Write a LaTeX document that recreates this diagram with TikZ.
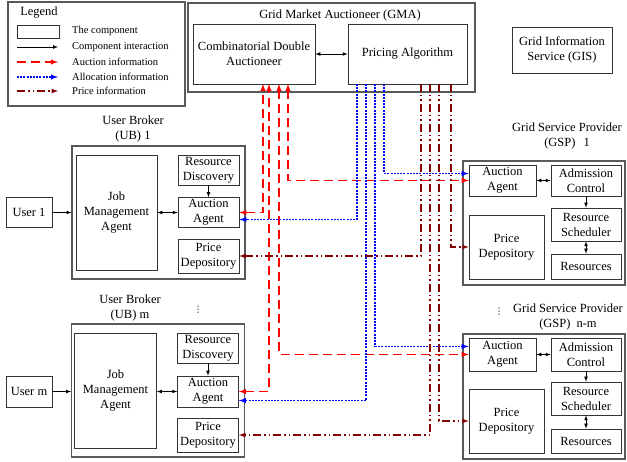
\documentclass[tikz,border=0pt]{standalone}
\usepackage{fontspec}
\setmainfont{Liberation Serif}
\newfontfamily\dotsfont{DejaVu Sans}
\usepackage{tikz}
\usetikzlibrary{arrows}
\usetikzlibrary{calc}
\definecolor{pricered}{RGB}{130,0,0}

\begin{document}
\begin{tikzpicture}[x=1pt,y=-1pt,
    font=\fontsize{12.5}{15}\selectfont,
    comp/.style={draw=black!80, line width=0.7pt, align=center, inner sep=1pt},
    frame/.style={draw=black!65, line width=1.1pt},
    label/.style={align=center, inner sep=0pt},
    legtext/.style={anchor=west, inner sep=0pt, font=\fontsize{10.5}{12}\selectfont},
    vdotsmark/.style={inner sep=0pt, font=\dotsfont\fontsize{9}{10}\selectfont},
    link/.style={-latex, line width=0.7pt},
    twolink/.style={latex-latex, line width=0.7pt},
    auction/.style={red, line width=1.4pt, dash pattern=on 9pt off 5pt},
    alloc/.style={-latex, blue, line width=1.4pt, dash pattern=on 2pt off 1.2pt},
    price/.style={-latex, pricered, line width=1.2pt, dash pattern=on 8pt off 3pt on 1.5pt off 3pt on 1.5pt off 3pt}]
  \useasboundingbox (0,0) rectangle (627,462);

  % legend
  \node[frame, minimum width=177pt, minimum height=104pt] (legend) at (96.5,54) {};
  \node[inner sep=0pt] (legtitle) at (39,13) {Legend};
  \node[comp, minimum width=42pt, minimum height=13pt] (legbox) at (38,31.5) {};
  \node[legtext] (legt1) at (72,31) {The component};
  \node[legtext] (legt2) at (72,47) {Component interaction};
  \node[legtext] (legt3) at (72,62) {Auction information};
  \node[legtext] (legt4) at (72,77) {Allocation information};
  \node[legtext] (legt5) at (72,91) {Price information};
  \coordinate (l2) at (17,47);
  \coordinate (l3) at (17,62);
  \coordinate (l4) at (17,77);
  \coordinate (l5) at (17,91);
  \draw[link] (l2) -- ++(41,0);
  \draw[auction, -latex] (l3) -- ++(41,0);
  \draw[alloc] (l4) -- ++(41,0);
  \draw[price] (l5) -- ++(41,0);

  % grid market auctioneer
  \node[frame, minimum width=287pt, minimum height=89pt] (gma) at (331.5,47.5) {};
  \node[label] (gmatitle) at (340,15) {Grid Market Auctioneer (GMA)};
  \node[comp, minimum width=122pt, minimum height=60pt] (cda) at (254,54) {Combinatorial Double\\Auctioneer};
  \node[comp, minimum width=119pt, minimum height=60pt] (pa) at (407.5,54) {Pricing Algorithm};
  \draw[twolink] (cda) -- (pa);

  \node[comp, minimum width=100pt, minimum height=46pt] (gis) at (562,50) {Grid Information\\Service (GIS)};

  % user broker 1
  \node[label] (ub1title) at (133,129) {User Broker\\(UB) 1};
  \node[frame, minimum width=173pt, minimum height=133pt] (ub1) at (158.5,212.5) {};
  \node[comp, minimum width=46pt, minimum height=30pt] (user1) at (29,212.5) {User 1};
  \node[comp, minimum width=81pt, minimum height=115pt] (ub1jma) at (116.5,212.5) {Job\\Management\\Agent};
  \node[comp, minimum width=61pt, minimum height=30pt] (ub1rd) at (208.5,170) {Resource\\Discovery};
  \node[comp, minimum width=61pt, minimum height=30pt] (ub1aa) at (208.5,212.5) {Auction\\Agent};
  \node[comp, minimum width=61pt, minimum height=34pt] (ub1pd) at (208.5,256) {Price\\Depository};
  \draw[link] (user1.east) -- (ub1.west |- user1.east);
  \draw[twolink] (ub1jma) -- (ub1aa);
  \draw[link] (ub1rd) -- (ub1aa);

  % user broker m
  \node[label] (ubmtitle) at (130,307.5) {User Broker\\(UB) m};
  \node[vdotsmark] (ubdots) at (198,310) {⋮};
  \node[frame, minimum width=173pt, minimum height=133pt] (ubm) at (158,390.5) {};
  \node[comp, minimum width=46pt, minimum height=31pt] (userm) at (29,391.5) {User m};
  \node[comp, minimum width=82pt, minimum height=115pt] (ubmjma) at (115.5,390.5) {Job\\Management\\Agent};
  \node[comp, minimum width=61pt, minimum height=30pt] (ubmrd) at (208,348) {Resource\\Discovery};
  \node[comp, minimum width=61pt, minimum height=31pt] (ubmaa) at (208,391.5) {Auction\\Agent};
  \node[comp, minimum width=61pt, minimum height=34pt] (ubmpd) at (208,435) {Price\\Depository};
  \draw[link] (userm.east) -- (ubm.west |- userm.east);
  \draw[twolink] (ubmjma.east |- ubmaa) -- (ubmaa);
  \draw[link] (ubmrd) -- (ubmaa);

  % grid service provider 1
  \node[label] (gsp1title) at (567,135.5) {Grid Service Provider\\(GSP)\hspace{8pt}1};
  \node[frame, minimum width=162pt, minimum height=124pt] (gsp1) at (544,223) {};
  \node[comp, minimum width=67pt, minimum height=31pt] (gsp1aa) at (502.5,180.5) {Auction\\Agent};
  \node[comp, minimum width=70pt, minimum height=31pt] (gsp1ac) at (586,180.5) {Admission\\Control};
  \node[comp, minimum width=70pt, minimum height=33pt] (gsp1rs) at (586,224.5) {Resource\\Scheduler};
  \node[comp, minimum width=70pt, minimum height=25pt] (gsp1res) at (586,266.5) {Resources};
  \node[comp, minimum width=75pt, minimum height=64pt] (gsp1pd) at (506.5,247) {Price\\Depository};
  \draw[twolink] (gsp1aa) -- (gsp1ac);
  \draw[link] (gsp1ac) -- (gsp1rs);
  \draw[twolink] (gsp1rs) -- (gsp1res);

  % grid service provider n-m
  \node[label] (gspmtitle) at (568,316.5) {Grid Service Provider\\(GSP)\hspace{6pt}n-m};
  \node[vdotsmark] (gspdots) at (499,312) {⋮};
  \node[frame, minimum width=162pt, minimum height=125pt] (gspm) at (544,396.5) {};
  \node[comp, minimum width=67pt, minimum height=33pt] (gspmaa) at (502.5,354.5) {Auction\\Agent};
  \node[comp, minimum width=70pt, minimum height=33pt] (gspmac) at (586,354.5) {Admission\\Control};
  \node[comp, minimum width=70pt, minimum height=33pt] (gspmrs) at (586,398.5) {Resource\\Scheduler};
  \node[comp, minimum width=70pt, minimum height=24pt] (gspmres) at (586,441) {Resources};
  \node[comp, minimum width=75pt, minimum height=64pt] (gspmpd) at (506.5,421) {Price\\Depository};
  \draw[twolink] (gspmaa) -- (gspmac);
  \draw[link] (gspmac) -- (gspmrs);
  \draw[twolink] (gspmrs) -- (gspmres);

  % ports on the auctioneer
  \coordinate (a1) at (263,84);
  \coordinate (a2) at (269,84);
  \coordinate (a3) at (279,84);
  \coordinate (a4) at (288,84);
  \coordinate (b1) at (357,84);
  \coordinate (b2) at (366,84);
  \coordinate (b3) at (375,84);
  \coordinate (b4) at (384,84);
  \coordinate (p1) at (421,84);
  \coordinate (p2) at (430,84);
  \coordinate (p3) at (439,84);
  \coordinate (p4) at (451,84);

  % auction information
  \draw[auction, latex-latex] (ub1aa.east) -| (a1);
  \draw[auction, latex-latex] (ubmaa.east) -| (a2);
  \draw[auction, latex-latex] (a3) |- (gspmaa.west);
  \draw[auction, latex-latex] (a4) |- (gsp1aa.west);

  % allocation information
  \draw[alloc] (b1) |- ($(ub1aa.east)+(0,7)$);
  \draw[alloc] (b2) |- ($(ubmaa.east)+(0,9)$);
  \draw[alloc] (b3) |- ($(gspmaa.west)+(0,-8)$);
  \draw[alloc] (b4) |- ($(gsp1aa.west)+(0,-7)$);

  % price information
  \draw[price] (p1) |- (ub1pd.east);
  \draw[price] (p2) |- (ubmpd.east);
  \draw[price] (p3) |- (gspmpd.west);
  \draw[price] (p4) |- (gsp1pd.west);
\end{tikzpicture}
\end{document}
